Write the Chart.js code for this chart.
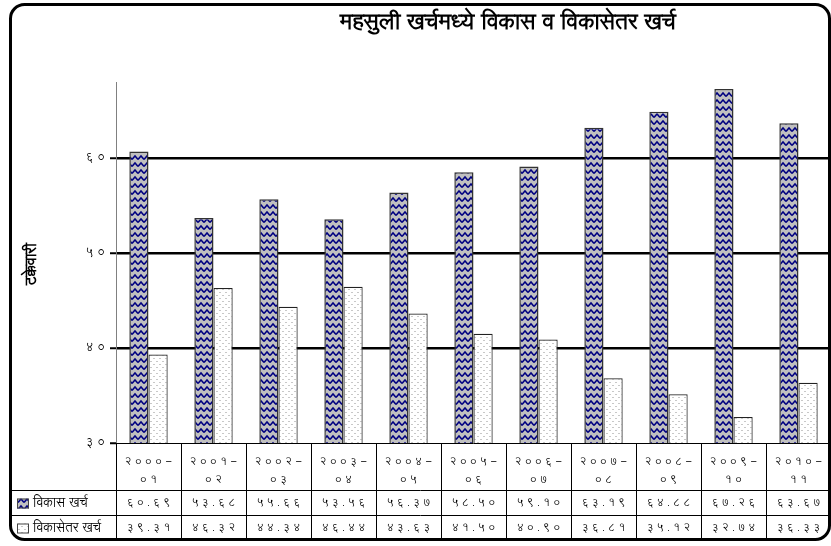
<!DOCTYPE html>
<html>
<head>
<meta charset="utf-8">
<script src="https://cdn.jsdelivr.net/npm/chart.js@4.4.1/dist/chart.umd.min.js"></script>
<style>
	html, body	{ margin: 0; padding: 0; background: #fff; }
	#wrap		{ width: 831px; height: 546px; position: relative; }
</style>
</head>
<body>
<div id="wrap"><canvas id="chart"></canvas></div>
<script>
// data
const TITLE		= 'महसुली खर्चमध्ये विकास व विकासेतर खर्च';
const Y_TITLE	= 'टक्केवारी';
const YEARS		= [ '२०००-०१', '२००१-०२', '२००२-०३', '२००३-०४', '२००४-०५', '२००५-०६',
					'२००६-०७', '२००७-०८', '२००८-०९', '२००९-१०', '२०१०-११' ];
const SERIES	= [ 'विकास खर्च', 'विकासेतर खर्च' ];
const DEV		= [ 60.69, 53.68, 55.66, 53.56, 56.37, 58.50, 59.10, 63.19, 64.88, 67.26, 63.67 ];
const NON_DEV	= [ 39.31, 46.32, 44.34, 46.44, 43.63, 41.50, 40.90, 36.81, 35.12, 32.74, 36.33 ];
const Y_TICKS	= [ 30, 40, 50, 60 ];

const FONT		= '"Lohit Devanagari", "Noto Sans Devanagari", "FreeSans", "Noto Sans", sans-serif';

function toDev( s ) {
	return String( s ).replace( /[0-9]/g, d => '०१२३४५६७८९'[ d ] );
}

function makePattern( kind ) {
	let c	= document.createElement( 'canvas' );
	let g	= c.getContext( '2d' );

	if ( kind === 'wave' ) {
		c.width		= 6;
		c.height	= 7;
		g.fillStyle	= '#c0c0c0';
		g.fillRect( 0, 0, 6, 7 );
		g.strokeStyle	= '#000080';
		g.lineWidth		= 1.5;
		g.beginPath();
		g.moveTo( 0, 5.5 );
		g.lineTo( 3, 2 );
		g.lineTo( 6, 5.5 );
		g.stroke();
	} else {
		c.width		= 6;
		c.height	= 6;
		g.fillStyle	= '#ffffff';
		g.fillRect( 0, 0, 6, 6 );
		g.fillStyle	= '#c8c8c8';
		g.fillRect( 0, 1, 2, 1 );
		g.fillRect( 3, 4, 2, 1 );
	}
	return g.createPattern( c, 'repeat' );
}

const PAT	= [ makePattern( 'wave' ), makePattern( 'dots' ) ];

function spaced( ctx, text, x, y, sp ) {
	ctx.letterSpacing	= sp + 'px';
	let w	= ctx.measureText( text ).width - sp;
	ctx.textAlign	= 'left';
	ctx.fillText( text, x - w / 2, y );
	ctx.letterSpacing	= '0px';
}

const framePlugin = {
	id: 'frame',
	afterDraw( chart ) {
		const ctx	= chart.ctx;
		const xs	= chart.scales.x;
		const a		= chart.chartArea;
		const w		= ( a.right - a.left ) / YEARS.length;
		const rows	= [ a.bottom, 490, 515, 540 ];

		ctx.save();

		// title
		ctx.fillStyle		= '#000';
		ctx.font			= 'bold 22px ' + FONT;
		ctx.textBaseline	= 'middle';
		ctx.textAlign		= 'center';
		ctx.fillText( TITLE, 508, 24 );

		// y title
		ctx.save();
		ctx.translate( 33, 264 );
		ctx.rotate( -Math.PI / 2 );
		ctx.font	= 'bold 15px ' + FONT;
		ctx.fillText( Y_TITLE, 0, 0 );
		ctx.restore();

		// table lines
		ctx.strokeStyle	= '#000';
		ctx.lineWidth	= 1;
		ctx.beginPath();
		ctx.moveTo( a.left, a.bottom + 0.5 );
		ctx.lineTo( a.right, a.bottom + 0.5 );
		for ( const r of rows.slice( 1, 3 ) ) {
			ctx.moveTo( 10, r + 0.5 );
			ctx.lineTo( a.right, r + 0.5 );
		}
		for ( let i = 0; i <= YEARS.length; i++ ) {
			let px	= Math.round( a.left + i * w ) + 0.5;
			ctx.moveTo( px, a.bottom );
			ctx.lineTo( px, 540 );
		}
		ctx.stroke();

		// category row
		ctx.font	= '11px ' + FONT;
		YEARS.forEach( ( y, i ) => {
			let cx		= xs.getPixelForValue( i );
			let parts	= y.split( '-' );
			spaced( ctx, parts[ 0 ] + '-', cx, 462, 3 );
			spaced( ctx, parts[ 1 ], cx, 480, 3 );
		} );

		// value rows
		[ DEV, NON_DEV ].forEach( ( arr, k ) => {
			let cy	= ( rows[ k + 1 ] + rows[ k + 2 ] ) / 2 + 1;
			ctx.font	= '11px ' + FONT;
			arr.forEach( ( v, i ) => {
				spaced( ctx, toDev( v.toFixed( 2 ) ), xs.getPixelForValue( i ), cy, 3 );
			} );

			ctx.fillStyle	= PAT[ k ];
			ctx.fillRect( 17, cy - 5, 12, 10 );
			ctx.strokeStyle	= '#444';
			ctx.strokeRect( 17.5, cy - 4.5, 11, 9 );
			ctx.fillStyle	= '#000';
			ctx.textAlign	= 'left';
			ctx.font		= '13px ' + FONT;
			ctx.fillText( SERIES[ k ], 33, cy );
		} );

		// rounded frame
		ctx.strokeStyle	= '#000';
		ctx.lineWidth	= 3;
		ctx.beginPath();
		ctx.roundRect( 10.5, 4.5, 819, 535, 14 );
		ctx.stroke();

		ctx.restore();
	}
};

const chart = new Chart( document.getElementById( 'chart' ), {
	type: 'bar',
	data: {
		labels: YEARS,
		datasets: [
			{
				label: SERIES[ 0 ],
				data: DEV,
				backgroundColor: PAT[ 0 ],
				borderColor: '#333',
				borderWidth: 1.5
			},
			{
				label: SERIES[ 1 ],
				data: NON_DEV,
				backgroundColor: PAT[ 1 ],
				borderColor: '#222',
				borderWidth: 1.2
			}
		]
	},
	options: {
		responsive: true,
		maintainAspectRatio: false,
		animation: false,
		layout: { padding: { left: 0, top: 82, right: 0, bottom: 103 } },
		datasets: { bar: { categoryPercentage: 0.59, barPercentage: 1 } },
		plugins: {
			legend: { display: false },
			title: { display: false },
			tooltip: { enabled: false }
		},
		scales: {
			x: { display: false },
			y: {
				min: 30,
				max: 68,
				afterFit: s => { s.width = 116; },
				afterBuildTicks: s => { s.ticks = Y_TICKS.map( v => ( { value: v } ) ); },
				border: { display: true, color: '#808080', width: 1 },
				grid: {
					color: c => c.tick && c.tick.value === 30 ? 'rgba(0,0,0,0)' : '#000',
					lineWidth: 2.5,
					drawTicks: true,
					tickLength: 6,
					tickColor: '#000',
					tickWidth: 2
				},
				ticks: {
					padding: 5,
					color: '#000',
					font: { family: FONT, size: 12 },
					callback: v => toDev( v ).split( '' ).join( ' ' )
				}
			}
		}
	},
	plugins: [ framePlugin ]
} );
</script>
</body>
</html>
